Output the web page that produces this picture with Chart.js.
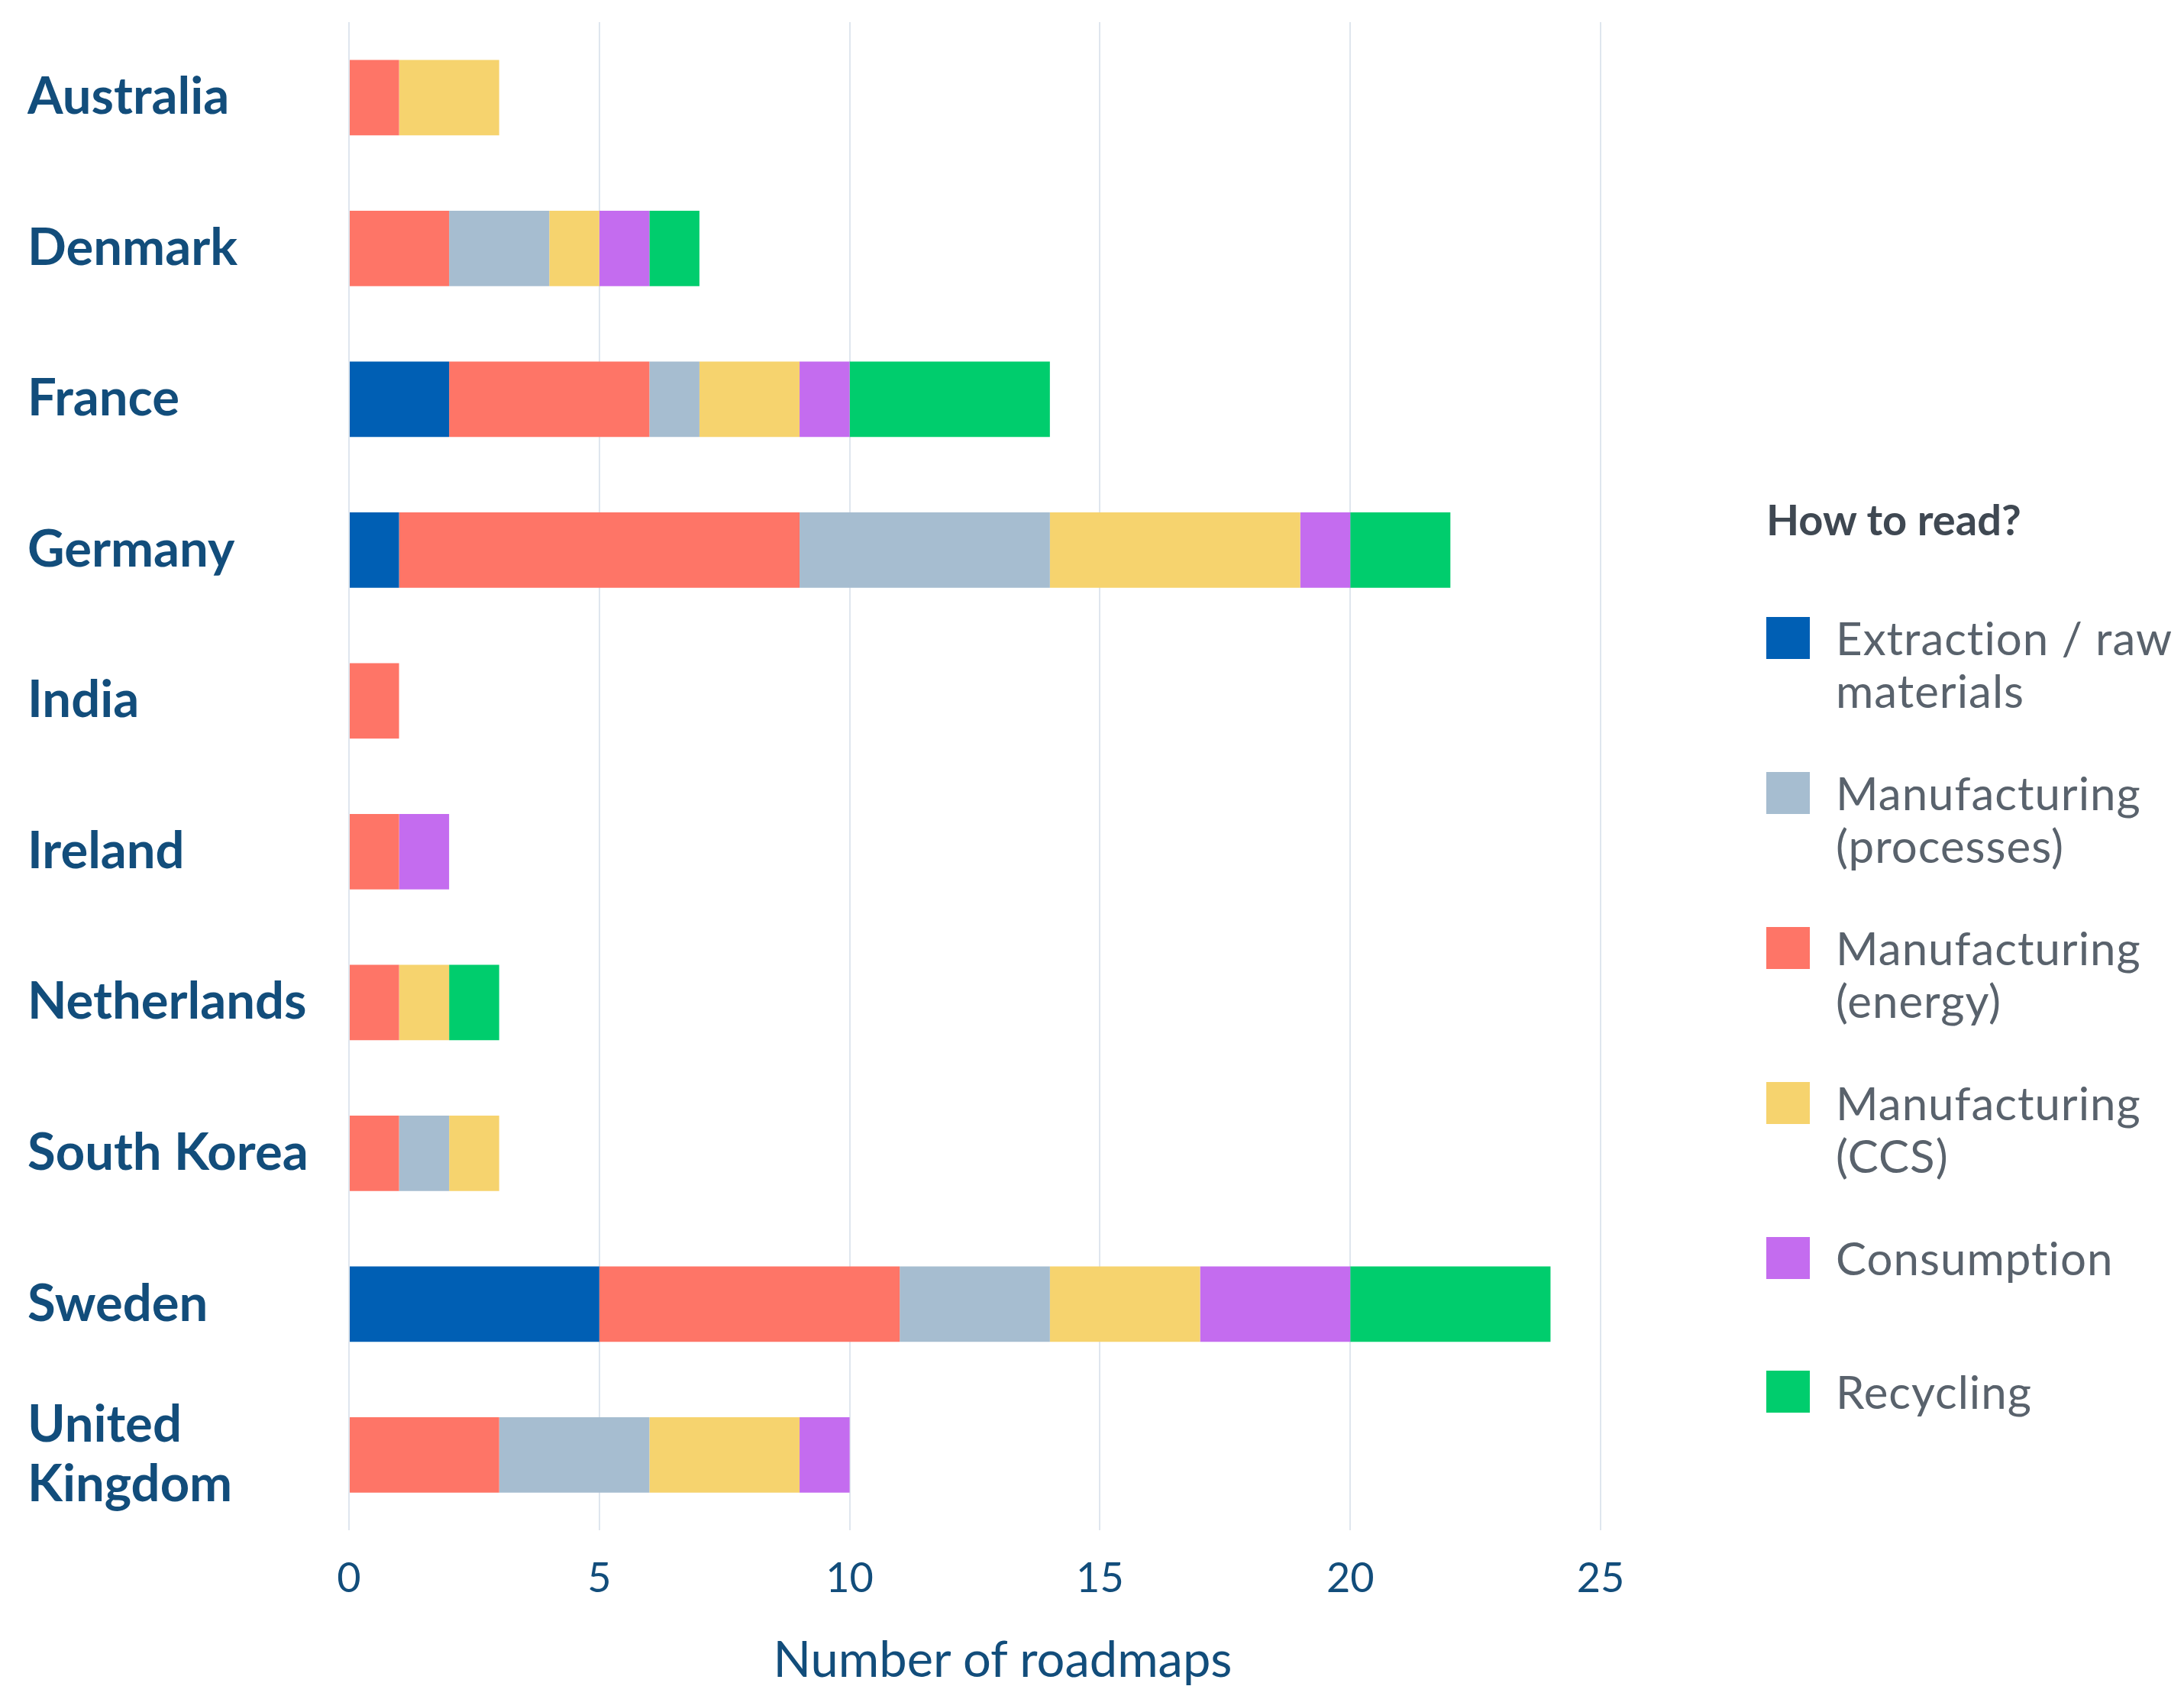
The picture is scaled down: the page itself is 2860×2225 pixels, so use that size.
<!DOCTYPE html>
<html>
<head>
<meta charset="utf-8">
<script src="https://cdn.jsdelivr.net/npm/chart.js@4.4.1/dist/chart.umd.min.js"></script>
<style>
    html, body { margin: 0; padding: 0; background: #fff; }
    #wrap { position: relative; width: 2860px; height: 2225px; }
    #legend {
        position: absolute; left: 2313px; top: 640px;
        font-family: Lato, sans-serif; color: #59626c;
    }
    #legend h3 {
        margin: 0 0 81px 0; font-size: 56px; font-weight: 700; color: #3f4852;
        line-height: 80px;
    }
    .item { display: flex; align-items: flex-start; height: 203px; }
    .item.single { height: 175px; }
    .swatch { width: 57px; height: 55px; margin-top: 7px; margin-right: 34px; flex: none; }
    .label { font-size: 60px; line-height: 69px; letter-spacing: 1px; }
    #xtitle {
        position: absolute; left: 1313px; top: 2171px; transform: translate(-50%, -50%);
        font-family: Lato, sans-serif; font-size: 65px; color: #124d7b; white-space: nowrap;
    }
</style>
</head>
<body>
<div id="wrap">
    <canvas id="chart" width="2860" height="2225"></canvas>
    <div id="xtitle">Number of roadmaps</div>
    <div id="legend"></div>
</div>
<script>
const countries = ['Australia', 'Denmark', 'France', 'Germany', 'India', 'Ireland',
    'Netherlands', 'South Korea', 'Sweden', ['United', 'Kingdom']];

// stacking order inside each bar
const extraction  = [0, 0, 2, 1, 0, 0, 0, 0, 5, 0];
const energy      = [1, 2, 4, 8, 1, 1, 1, 1, 6, 3];
const processes   = [0, 2, 1, 5, 0, 0, 0, 1, 3, 3];
const ccs         = [2, 1, 2, 5, 0, 0, 1, 1, 3, 3];
const consumption = [0, 1, 1, 1, 0, 1, 0, 0, 3, 1];
const recycling   = [0, 1, 4, 2, 0, 0, 1, 0, 4, 0];

const xTicks = [0, 5, 10, 15, 20, 25];

const seriesNames = {
    extraction: ['Extraction / raw', 'materials'],
    processes: ['Manufacturing', '(processes)'],
    energy: ['Manufacturing', '(energy)'],
    ccs: ['Manufacturing', '(CCS)'],
    consumption: ['Consumption'],
    recycling: ['Recycling']
};
const colors = {
    extraction: '#005fb4',
    energy: '#fe7567',
    processes: '#a6bdd0',
    ccs: '#f6d36e',
    consumption: '#c46cef',
    recycling: '#00cd6d'
};
const legendOrder = ['extraction', 'processes', 'energy', 'ccs', 'consumption', 'recycling'];

const navy = '#124d7b';
Chart.defaults.font.family = 'Lato, sans-serif';

const mk = (key, values) => ({
    key: key,
    label: seriesNames[key].join(' '),
    data: values,
    backgroundColor: colors[key],
    borderWidth: 0,
    categoryPercentage: 0.5,
    barPercentage: 1.0
});

const chart = new Chart(document.getElementById('chart'), {
    type: 'bar',
    data: {
        labels: countries,
        datasets: [
            mk('extraction', extraction),
            mk('energy', energy),
            mk('processes', processes),
            mk('ccs', ccs),
            mk('consumption', consumption),
            mk('recycling', recycling)
        ]
    },
    options: {
        indexAxis: 'y',
        responsive: false,
        devicePixelRatio: 1,
        animation: false,
        layout: { padding: { left: 36, right: 764, top: 29, bottom: 94 } },
        plugins: { legend: { display: false }, tooltip: { enabled: false } },
        scales: {
            x: {
                stacked: true,
                min: 0, max: 25,
                afterBuildTicks: (s) => { s.ticks = xTicks.map(v => ({ value: v })); },
                grid: { color: '#dfe6ee', lineWidth: 2, drawTicks: false },
                border: { display: false },
                ticks: { color: navy, font: { size: 54 }, padding: 31 }
            },
            y: {
                stacked: true,
                grid: { display: false },
                border: { display: false },
                afterFit: (s) => { s.width = 421; s.paddingTop = 0; s.paddingBottom = 0; },
                ticks: {
                    color: navy, crossAlign: 'far',
                    font: { size: 67, weight: 'bold', lineHeight: 1.17 }
                }
            }
        }
    }
});

// legend in the original's order, colours from the chart
const legend = document.getElementById('legend');
const head = document.createElement('h3');
head.textContent = 'How to read?';
legend.appendChild(head);
legendOrder.forEach(key => {
    const ds = chart.data.datasets.find(d => d.key === key);
    const row = document.createElement('div');
    row.className = 'item' + (seriesNames[key].length === 1 ? ' single' : '');
    const sw = document.createElement('div');
    sw.className = 'swatch';
    sw.style.background = ds.backgroundColor;
    const lab = document.createElement('div');
    lab.className = 'label';
    lab.innerHTML = seriesNames[key].join('<br>');
    row.appendChild(sw);
    row.appendChild(lab);
    legend.appendChild(row);
});
</script>
</body>
</html>
